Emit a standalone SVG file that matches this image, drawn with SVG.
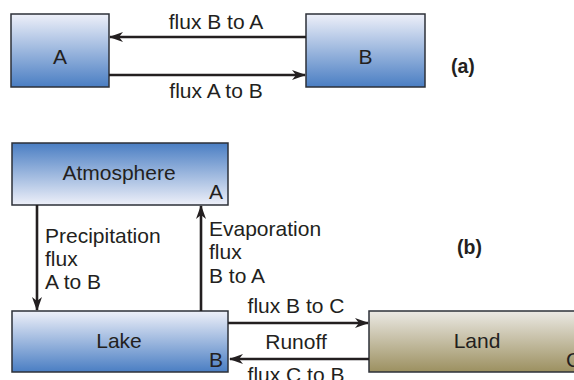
<svg xmlns="http://www.w3.org/2000/svg" width="574" height="380" viewBox="0 0 574 380">
  <style>
    .box { stroke: #2d3038; stroke-width: 1.5; }
    .lbl { font-family: "Liberation Sans", Arial, sans-serif; font-size: 21px; fill: #231f20; }
    .mid { text-anchor: middle; }
    .tag { font-family: "Liberation Sans", Arial, sans-serif; font-size: 19.5px; font-weight: bold; fill: #231f20; }
    .flow { stroke: #231f20; stroke-width: 2.6; fill: none; }
  </style>
  <defs>
    <linearGradient id="blueDown" x1="0" y1="0" x2="0" y2="1">
      <stop offset="0" stop-color="#eef0f9"/>
      <stop offset="1" stop-color="#4a7ec3"/>
    </linearGradient>
    <linearGradient id="blueUp" x1="0" y1="0" x2="0" y2="1">
      <stop offset="0" stop-color="#4a7ec3"/>
      <stop offset="1" stop-color="#eef0f9"/>
    </linearGradient>
    <linearGradient id="soil" x1="0" y1="0" x2="0" y2="1">
      <stop offset="0" stop-color="#ebe9e4"/>
      <stop offset="1" stop-color="#9c9060"/>
    </linearGradient>
    <marker id="head" viewBox="0 0 14 10" refX="13" refY="5" markerWidth="14" markerHeight="10" markerUnits="userSpaceOnUse" orient="auto">
      <path d="M0,0 L14,5 L0,10 L4,5 Z" fill="#231f20"/>
    </marker>
  </defs>

  <!-- (a) two-box exchange -->
  <g id="box-a">
    <rect class="box" x="11" y="14" width="98" height="73" fill="url(#blueDown)"/>
    <text class="lbl mid" x="60" y="64">A</text>
  </g>
  <g id="box-b">
    <rect class="box" x="306" y="14" width="119" height="73" fill="url(#blueDown)"/>
    <text class="lbl mid" x="365.5" y="64">B</text>
  </g>
  <text class="tag" x="451" y="73">(a)</text>

  <!-- (b) atmosphere / lake / land -->
  <g id="atmosphere">
    <rect class="box" x="12" y="143" width="216" height="62" fill="url(#blueUp)"/>
    <text class="lbl mid" x="119" y="180">Atmosphere</text>
    <text class="lbl" x="209" y="199">A</text>
  </g>
  <g id="lake">
    <rect class="box" x="12" y="311" width="216" height="61" fill="url(#blueDown)"/>
    <text class="lbl mid" x="119" y="348">Lake</text>
    <text class="lbl" x="209" y="367">B</text>
  </g>
  <g id="land">
    <rect class="box" x="369" y="311" width="217" height="61" fill="url(#soil)"/>
    <text class="lbl mid" x="477" y="348">Land</text>
    <text class="lbl" x="566" y="367">C</text>
  </g>
  <text class="tag" x="457" y="254">(b)</text>

  <g id="connectors">
    <!-- (a) fluxes -->
    <line class="flow" x1="306" y1="37" x2="110" y2="37" marker-end="url(#head)"/>
    <line class="flow" x1="109" y1="75" x2="305" y2="75" marker-end="url(#head)"/>
    <text class="lbl mid" x="216" y="29">flux B to A</text>
    <text class="lbl mid" x="216" y="98">flux A to B</text>

    <!-- precipitation and evaporation -->
    <line class="flow" x1="37" y1="205" x2="37" y2="310" marker-end="url(#head)"/>
    <line class="flow" x1="201" y1="311" x2="201" y2="206" marker-end="url(#head)"/>
    <text class="lbl" x="45" y="243">Precipitation</text>
    <text class="lbl" x="45" y="266">flux</text>
    <text class="lbl" x="45" y="289">A to B</text>
    <text class="lbl" x="209" y="236">Evaporation</text>
    <text class="lbl" x="209" y="259">flux</text>
    <text class="lbl" x="209" y="283">B to A</text>

    <!-- lake / land exchange -->
    <line class="flow" x1="228" y1="323" x2="368" y2="323" marker-end="url(#head)"/>
    <line class="flow" x1="369" y1="359" x2="230" y2="359" marker-end="url(#head)"/>
    <text class="lbl mid" x="296" y="313">flux B to C</text>
    <text class="lbl mid" x="296" y="349">Runoff</text>
    <text class="lbl mid" x="296" y="382">flux C to B</text>
  </g>
</svg>
